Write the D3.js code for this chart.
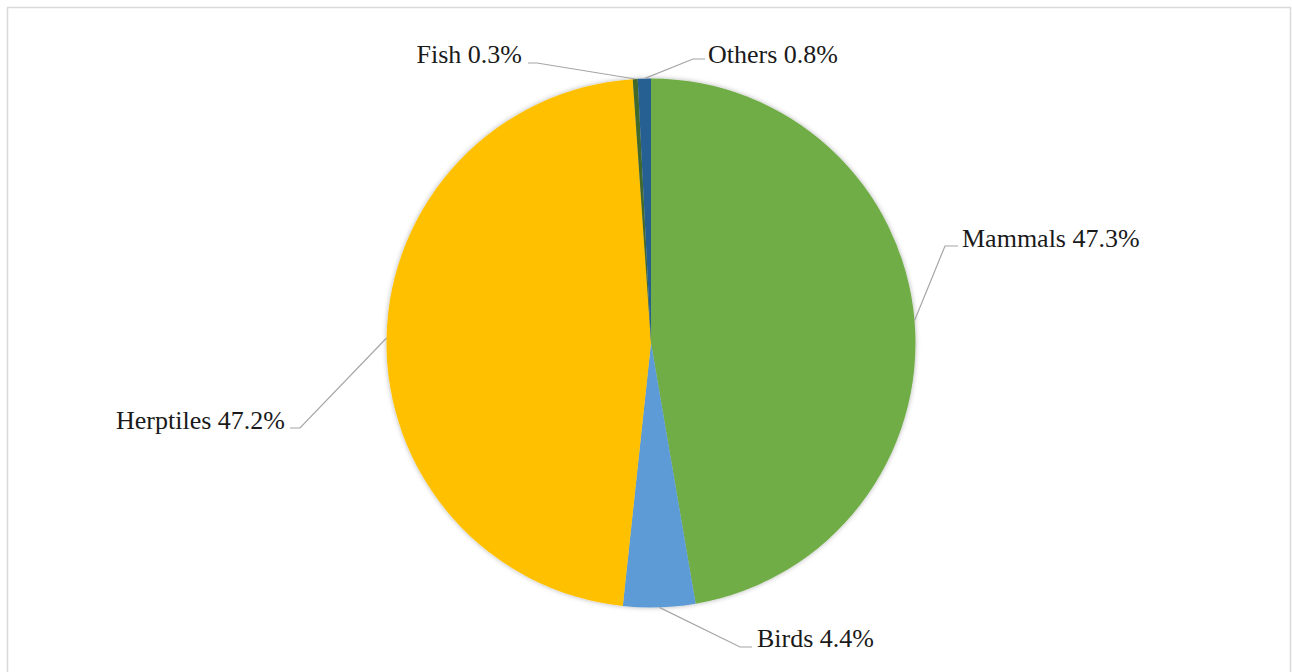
<!DOCTYPE html>
<html>
<head>
<meta charset="utf-8">
<script src="https://cdn.jsdelivr.net/npm/d3@7/dist/d3.min.js"></script>
<style>
  html, body { margin: 0; padding: 0; background: #ffffff; }
  svg { display: block; }
</style>
</head>
<body>
<svg id="chart" width="1292" height="672"></svg>
<script>
// ---- data ----
const categories = ["Mammals", "Birds", "Herptiles", "Fish", "Others"];
const percentages = [47.3, 4.4, 47.2, 0.3, 0.8];
const colors = ["#70AD47", "#5B9BD5", "#FFC000", "#43682B", "#255E91"];

// ---- layout (label placement) ----
const labelLayout = [
  { tx: 962, ty: 247, anchor: "start", ex: 945, ey: 246, hx: 958 },   // Mammals
  { tx: 757, ty: 647, anchor: "start", ex: 740, ey: 647, hx: 752 },   // Birds
  { tx: 285, ty: 429, anchor: "end",   ex: 300, ey: 428, hx: 290 },   // Herptiles
  { tx: 522, ty: 63,  anchor: "end",   ex: 537, ey: 63,  hx: 528 },   // Fish
  { tx: 708, ty: 63,  anchor: "start", ex: 693, ey: 59,  hx: 705 }    // Others
];

const W = 1292, H = 672;
const cx = 651, cy = 343, R = 264.5;

const svg = d3.select("#chart");

// chart frame
svg.append("rect")
  .attr("x", 7.5).attr("y", 7.5)
  .attr("width", 1283).attr("height", 700)
  .attr("fill", "#ffffff")
  .attr("stroke", "#d9d9d9")
  .attr("stroke-width", 1.5);

const defs = svg.append("defs");
const filt = defs.append("filter").attr("id", "shadow")
  .attr("x", "-10%").attr("y", "-10%").attr("width", "120%").attr("height", "120%");
filt.append("feDropShadow")
  .attr("dx", 0).attr("dy", 0)
  .attr("stdDeviation", 2.5)
  .attr("flood-color", "#000")
  .attr("flood-opacity", 0.3);

const pie = d3.pie().sort(null).value(d => d).startAngle(0).endAngle(2 * Math.PI);
const arcs = pie(percentages);
const arc = d3.arc().innerRadius(0).outerRadius(R);
const edgeArc = d3.arc().innerRadius(R).outerRadius(R);

const g = svg.append("g").attr("transform", `translate(${cx},${cy})`);

g.append("g").attr("filter", "url(#shadow)")
  .selectAll("path")
  .data(arcs)
  .join("path")
  .attr("d", arc)
  .attr("fill", (d, i) => colors[i]);

// leader lines
const lines = svg.append("g");
arcs.forEach((d, i) => {
  const [px, py] = edgeArc.centroid(d);
  const L = labelLayout[i];
  lines.append("polyline")
    .attr("points", `${cx + px},${cy + py} ${L.ex},${L.ey} ${L.hx},${L.ey}`)
    .attr("fill", "none")
    .attr("stroke", "#a6a6a6")
    .attr("stroke-width", 1.2);
});

// labels
svg.append("g")
  .selectAll("text")
  .data(arcs)
  .join("text")
  .attr("x", (d, i) => labelLayout[i].tx)
  .attr("y", (d, i) => labelLayout[i].ty)
  .attr("text-anchor", (d, i) => labelLayout[i].anchor)
  .attr("font-family", "'Liberation Serif', 'Times New Roman', serif")
  .attr("font-size", 26)
  .attr("fill", "#1a1a1a")
  .text((d, i) => `${categories[i]} ${percentages[i].toFixed(1)}%`);
</script>
</body>
</html>
